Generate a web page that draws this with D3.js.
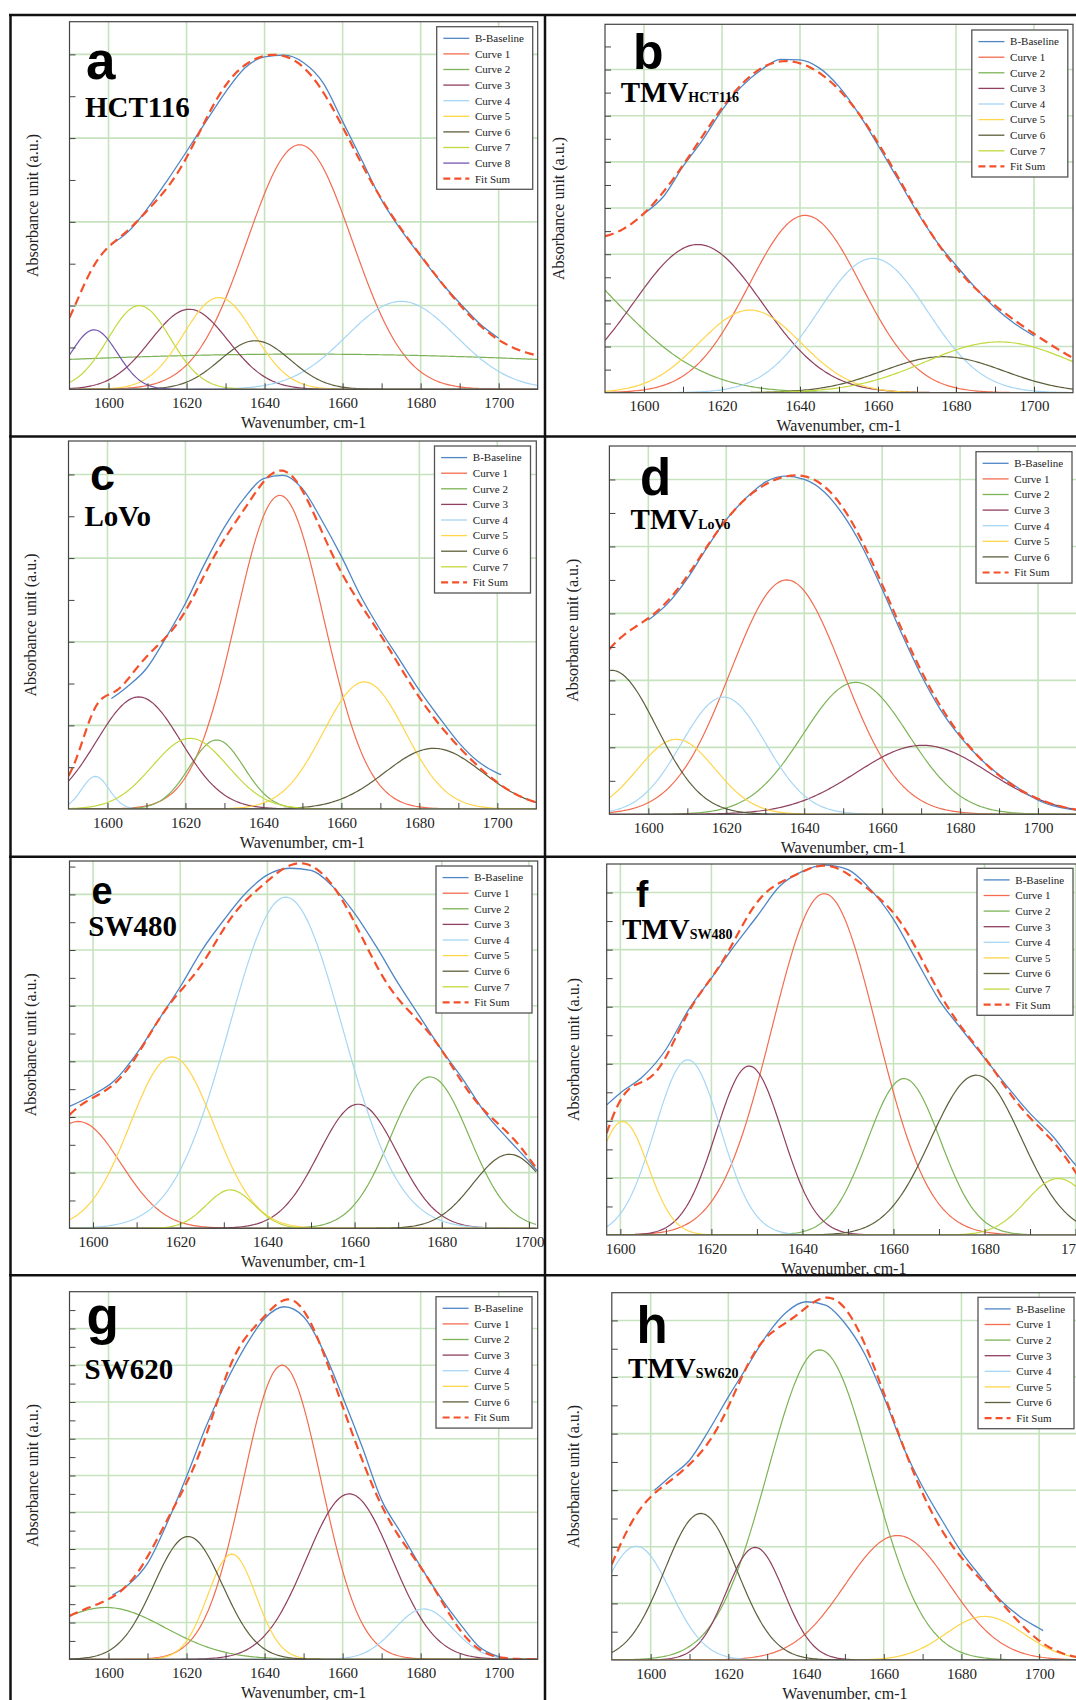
<!DOCTYPE html>
<html>
<head>
<meta charset="utf-8">
<script src="https://cdn.jsdelivr.net/npm/d3@7"></script>
<style>
  body { margin: 0; background: #fff; }
  svg { display: block; }
</style>
</head>
<body>
<svg id="fig" width="1076" height="1700"></svg>
<script>
// ---------- DATA ----------
var panelLetters = ["a", "b", "c", "d", "e", "f", "g", "h"];
var sampleNames = ["HCT116", "TMV", "LoVo", "TMV", "SW480", "TMV", "SW620", "TMV"];
var sampleSubs = ["", "HCT116", "", "LoVo", "", "SW480", "", "SW620"];

// wavenumber range shown on each x axis (cm-1)
var xDomains = [[1590, 1710], [1590, 1710], [1590, 1710], [1590, 1710],
                [1594.6, 1702], [1597, 1701.2], [1590, 1710], [1590, 1710]];
// top of each y axis, in grid units (no numbers printed on the y axes)
var yMax = [4.39, 7.98, 4.4, 5.5, 6.6, 6.5, 10, 6.49];

var xLabelTicks = [1600, 1620, 1640, 1660, 1680, 1700];
var xMinorTicks = [1590, 1610, 1630, 1650, 1670, 1690, 1710];

// fitted component peaks: [centre cm-1, height, sigma cm-1]  (Curve 1, Curve 2, ...)
var peaksA = [[1649, 2.92, 13.5], [1650, 0.42, 105], [1620.7, 0.956, 10], [1675, 1.05, 14],
              [1628.3, 1.096, 9], [1637.6, 0.58, 9], [1607.9, 1.0, 8], [1596.3, 0.71, 6]];
var peaksB = [[1641.3, 3.84, 14.4], [1569, 3.37, 23], [1613.8, 3.21, 16.5], [1658.7, 2.91, 14],
              [1627.2, 1.79, 13], [1676.7, 0.78, 15.5], [1691.1, 1.10, 19]];
var peaksC = [[1644.2, 3.75, 11.3], [1628, 0.825, 7], [1608, 1.34, 10.8], [1596.9, 0.39, 3.5],
              [1665.9, 1.52, 10.5], [1683.7, 0.725, 12.5], [1621.2, 0.845, 9.7]];
var peaksD = [[1635.5, 3.5, 14.5], [1653.2, 1.97, 13.5], [1670.4, 1.03, 17], [1619.3, 1.75, 10.8],
              [1607.2, 1.12, 9.9], [1590.6, 2.15, 11.5]];
var peaksE = [[1596.6, 1.92, 9.8], [1677.3, 2.72, 9], [1660.8, 2.23, 9], [1644.2, 5.95, 13],
              [1618.1, 3.08, 9.6], [1695.5, 1.33, 8.3], [1631.5, 0.69, 5.5]];
var peaksF = [[1644.8, 5.98, 11.5], [1662.3, 2.74, 8], [1628.3, 2.96, 7.3], [1614.8, 3.07, 7.2],
              [1600.5, 1.99, 5.6], [1678.2, 2.8, 9.9], [1696.2, 0.99, 7]];
var peaksG = [[1644.5, 8.0, 10], [1599.3, 1.41, 15.3], [1661.7, 4.5, 11], [1680.8, 1.37, 7.5],
              [1631.6, 2.86, 6.2], [1620.4, 3.34, 8.8]];
var peaksH = [[1663.5, 2.2, 13.4], [1643.5, 5.48, 13.4], [1626.9, 1.99, 7.4], [1596.3, 2.01, 8.8],
              [1686, 0.77, 10], [1612.9, 2.59, 9.4]];

// measured spectrum ("B-Baseline" trace): [wavenumber, absorbance]
var measuredA = [[1601, 1.74], [1605, 1.88], [1610, 2.16], [1615, 2.49], [1620, 2.84], [1625, 3.20],
  [1630, 3.55], [1635, 3.84], [1640, 3.97], [1645, 3.99], [1650, 3.90], [1655, 3.66], [1660, 3.20],
  [1665, 2.73], [1670, 2.26], [1675, 1.90], [1680, 1.59], [1685, 1.29], [1690, 1.03], [1695, 0.79], [1700, 0.61]];
var measuredB = [[1600, 3.88], [1605, 4.25], [1610, 4.90], [1615, 5.47], [1620, 6.12], [1625, 6.63],
  [1630, 6.99], [1635, 7.22], [1640, 7.21], [1645, 7.03], [1650, 6.63], [1655, 6.05], [1660, 5.36],
  [1665, 4.64], [1670, 3.92], [1675, 3.28], [1680, 2.76], [1685, 2.27], [1690, 1.84], [1695, 1.50], [1700, 1.23]];
var measuredC = [[1601, 1.32], [1605, 1.46], [1610, 1.68], [1615, 2.05], [1620, 2.46], [1625, 2.94],
  [1630, 3.37], [1635, 3.71], [1640, 3.95], [1645, 3.99], [1650, 3.83], [1655, 3.45], [1660, 3.02],
  [1665, 2.54], [1670, 2.14], [1675, 1.78], [1680, 1.42], [1685, 1.10], [1690, 0.80], [1695, 0.57],
  [1700, 0.43], [1701, 0.41]];
var measuredD = [[1600, 2.90], [1605, 3.15], [1610, 3.52], [1615, 3.98], [1620, 4.40], [1625, 4.72],
  [1630, 4.96], [1635, 5.05], [1640, 5.00], [1645, 4.82], [1650, 4.47], [1655, 3.98], [1660, 3.36],
  [1665, 2.70], [1670, 2.08], [1675, 1.56], [1680, 1.16], [1685, 0.84], [1690, 0.59], [1695, 0.39],
  [1700, 0.21], [1705, 0.11], [1710, 0.06]];
var measuredE = [[1594.6, 2.19], [1600, 2.40], [1605, 2.66], [1610, 3.14], [1615, 3.74], [1620, 4.34],
  [1625, 5.00], [1630, 5.54], [1635, 6.02], [1640, 6.35], [1645, 6.47], [1650, 6.43], [1655, 6.14],
  [1660, 5.66], [1665, 5.06], [1670, 4.40], [1675, 3.80], [1680, 3.20], [1685, 2.66], [1690, 2.07],
  [1695, 1.62], [1700, 1.20], [1702, 1.02]];
var measuredF = [[1597, 2.28], [1600, 2.49], [1605, 2.78], [1610, 3.25], [1615, 3.95], [1620, 4.50],
  [1625, 5.06], [1630, 5.58], [1635, 6.11], [1640, 6.37], [1645, 6.48], [1650, 6.40], [1655, 6.05],
  [1660, 5.53], [1665, 4.82], [1670, 4.12], [1675, 3.60], [1680, 3.10], [1685, 2.60], [1690, 2.13],
  [1695, 1.73], [1700, 1.23], [1702, 1.08]];
var measuredG = [[1601, 1.75], [1605, 2.02], [1610, 2.61], [1615, 3.70], [1620, 4.97], [1625, 6.33],
  [1630, 7.51], [1635, 8.50], [1640, 9.27], [1645, 9.59], [1650, 9.32], [1655, 8.41], [1660, 7.14],
  [1665, 5.78], [1670, 4.33], [1675, 3.43], [1680, 2.52], [1685, 1.70], [1690, 0.98], [1695, 0.34], [1700, 0.07]];
var measuredH = [[1601, 3.00], [1605, 3.24], [1610, 3.53], [1615, 4.06], [1620, 4.65], [1625, 5.20],
  [1630, 5.75], [1635, 6.15], [1640, 6.33], [1645, 6.27], [1650, 5.95], [1655, 5.42], [1660, 4.65],
  [1665, 3.77], [1670, 3.06], [1675, 2.47], [1680, 1.91], [1685, 1.47], [1690, 1.06], [1695, 0.77],
  [1700, 0.56], [1701, 0.52]];

var allPeaks = [peaksA, peaksB, peaksC, peaksD, peaksE, peaksF, peaksG, peaksH];
var allMeasured = [measuredA, measuredB, measuredC, measuredD, measuredE, measuredF, measuredG, measuredH];

// ---------- LOOK ----------
var curveColors = ["#f36c50", "#7db356", "#8f3f5f", "#a6d6f5", "#ffd54a", "#5e5e3c", "#c3d83c", "#7656b0"];
var baseColor = "#4f86c6";
var fitColor = "#f4502a";
var gridColor = "#c6e3be";
var serif = "'Liberation Serif', 'Times New Roman', serif";
var sans = "'Liberation Sans', Arial, sans-serif";

// plot boxes, label spots, legend spots (pixels)
var layout = [
  {l: 69.5, r: 537.7, t: 21.7, b: 389.3, yl: 33, lx: 86, ly: 79.3, ls: 53, nx: 85, ny: 116.7, gx: 436.7, gy: 26.7},
  {l: 605, r: 1073, t: 24.3, b: 392.7, yl: 559, lx: 633, ly: 69.3, ls: 50, nx: 620.7, ny: 102.3, gx: 971.8, gy: 30},
  {l: 68.5, r: 536.3, t: 441, b: 809, yl: 31, lx: 90, ly: 490, ls: 45, nx: 84.5, ny: 525.7, gx: 434.5, gy: 446},
  {l: 609.4, r: 1077, t: 446, b: 814.3, yl: 572.5, lx: 640, ly: 495, ls: 51, nx: 630.6, ny: 529, gx: 976, gy: 451.7},
  {l: 69.5, r: 537.7, t: 861, b: 1228.3, yl: 31, lx: 91.5, ly: 904, ls: 38, nx: 88.3, ny: 936, gx: 436, gy: 866},
  {l: 606.7, r: 1081, t: 864, b: 1235, yl: 574, lx: 636, ly: 906.7, ls: 37, nx: 622, ny: 939.3, gx: 977, gy: 868.3},
  {l: 69.5, r: 537.7, t: 1291.7, b: 1659.3, yl: 33, lx: 86.5, ly: 1334, ls: 53, nx: 84.5, ny: 1379.3, gx: 436, gy: 1296.7},
  {l: 611.8, r: 1078, t: 1292.7, b: 1660, yl: 574, lx: 636.5, ly: 1343.3, ls: 51, nx: 628, ny: 1378.3, gx: 978, gy: 1297.3}
];

var svg = d3.select("#fig");
svg.append("rect").attr("width", 1076).attr("height", 1700).attr("fill", "#fff");
var defs = svg.append("defs");

function gauss(p, v) {
  var d = v - p[0];
  return p[1] * Math.exp(-d * d / (2 * p[2] * p[2]));
}

function drawPanel(i) {
  var box = layout[i];
  var peaks = allPeaks[i];
  var dom = xDomains[i];
  var g = svg.append("g").attr("class", "panel-" + panelLetters[i]);

  var x = d3.scaleLinear().domain(dom).range([box.l, box.r]);
  var y = d3.scaleLinear().domain([0, yMax[i]]).range([box.b, box.t]);

  defs.append("clipPath").attr("id", "clip" + i)
    .append("rect").attr("x", box.l).attr("y", box.t)
    .attr("width", box.r - box.l).attr("height", box.b - box.t);

  // grid
  var grid = g.append("g");
  grid.selectAll(".vx").data(xLabelTicks.filter(function (d) { return d > dom[0] && d < dom[1]; }))
    .enter().append("line")
    .attr("x1", function (d) { return x(d); }).attr("x2", function (d) { return x(d); })
    .attr("y1", box.t).attr("y2", box.b)
    .attr("stroke", gridColor).attr("stroke-width", 1.6);
  grid.selectAll(".hy").data(d3.range(1, yMax[i], 1))
    .enter().append("line")
    .attr("x1", box.l).attr("x2", box.r)
    .attr("y1", function (d) { return y(d); }).attr("y2", function (d) { return y(d); })
    .attr("stroke", gridColor).attr("stroke-width", 1.6);

  var plot = g.append("g").attr("clip-path", "url(#clip" + i + ")");
  var line = d3.line().x(function (d) { return x(d[0]); }).y(function (d) { return y(d[1]); });
  var xs = d3.range(dom[0], dom[1] + 0.01, 0.5);

  // component peaks
  peaks.forEach(function (p, k) {
    plot.append("path")
      .datum(xs.map(function (v) { return [v, gauss(p, v)]; }))
      .attr("d", line)
      .attr("fill", "none")
      .attr("stroke", curveColors[k])
      .attr("stroke-width", 1.2);
  });

  // measured trace
  plot.append("path")
    .datum(allMeasured[i])
    .attr("d", line.curve(d3.curveMonotoneX))
    .attr("fill", "none")
    .attr("stroke", baseColor)
    .attr("stroke-width", 1.3);
  line.curve(d3.curveLinear);

  // fit sum of all components
  plot.append("path")
    .datum(xs.map(function (v) { return [v, d3.sum(peaks, function (p) { return gauss(p, v); })]; }))
    .attr("d", line)
    .attr("fill", "none")
    .attr("stroke", fitColor)
    .attr("stroke-width", 2.2)
    .attr("stroke-dasharray", "9,5");

  // frame
  g.append("rect")
    .attr("x", box.l).attr("y", box.t)
    .attr("width", box.r - box.l).attr("height", box.b - box.t)
    .attr("fill", "none").attr("stroke", "#444").attr("stroke-width", 1.2);

  // axes
  var xt = xLabelTicks.concat(xMinorTicks).filter(function (d) { return d > dom[0] && d < dom[1]; });
  var xAxis = d3.axisBottom(x).tickValues(xt).tickSize(-6).tickPadding(8)
    .tickFormat(function (d) { return d % 20 === 0 ? d : ""; });
  var xg = g.append("g").attr("transform", "translate(0," + box.b + ")").call(xAxis);
  xg.select(".domain").remove();
  xg.selectAll("line").attr("stroke", "#444");
  xg.selectAll("text").attr("font-family", serif).attr("font-size", 15).attr("fill", "#222");

  var yAxis = d3.axisLeft(y).tickValues(d3.range(0.5, yMax[i], 0.5)).tickSize(-6).tickFormat("");
  var yg = g.append("g").attr("transform", "translate(" + box.l + ",0)").call(yAxis);
  yg.select(".domain").remove();
  yg.selectAll("line").attr("stroke", "#444");

  // axis titles
  g.append("text")
    .attr("x", (box.l + box.r) / 2).attr("y", box.b + 38.5)
    .attr("text-anchor", "middle")
    .attr("font-family", serif).attr("font-size", 16).attr("fill", "#222")
    .text("Wavenumber, cm-1");
  g.append("text")
    .attr("transform", "translate(" + box.yl + "," + (box.t + box.b) / 2 + ") rotate(-90)")
    .attr("dy", "0.32em")
    .attr("text-anchor", "middle")
    .attr("font-family", serif).attr("font-size", 16).attr("fill", "#222")
    .text("Absorbance unit (a.u.)");

  // panel letter + sample name
  g.append("text")
    .attr("x", box.lx).attr("y", box.ly)
    .attr("font-family", sans).attr("font-weight", "bold").attr("font-size", box.ls)
    .attr("fill", "#000")
    .text(panelLetters[i]);
  var name = g.append("text")
    .attr("x", box.nx).attr("y", box.ny)
    .attr("font-family", serif).attr("font-weight", "bold").attr("font-size", 29)
    .attr("fill", "#000");
  name.append("tspan").text(sampleNames[i]);
  if (sampleSubs[i]) {
    name.append("tspan").attr("font-size", 14).text(sampleSubs[i]);
  }

  // legend
  var entries = [{label: "B-Baseline", color: baseColor, dash: null}];
  peaks.forEach(function (p, k) {
    entries.push({label: "Curve " + (k + 1), color: curveColors[k], dash: null});
  });
  entries.push({label: "Fit Sum", color: fitColor, dash: "7,4"});

  var step = 15.6;
  var lg = g.append("g").attr("transform", "translate(" + box.gx + "," + box.gy + ")");
  lg.append("rect")
    .attr("width", 96).attr("height", entries.length * step + 6.6)
    .attr("fill", "#fff").attr("stroke", "#555").attr("stroke-width", 1.3);
  var item = lg.selectAll(".item").data(entries).enter().append("g")
    .attr("transform", function (d, k) { return "translate(0," + (11.6 + k * step) + ")"; });
  item.append("line")
    .attr("x1", 6.6).attr("x2", 32.6)
    .attr("stroke", function (d) { return d.color; })
    .attr("stroke-width", function (d) { return d.dash ? 2.2 : 1.3; })
    .attr("stroke-dasharray", function (d) { return d.dash; });
  item.append("text")
    .attr("x", 38.3).attr("dy", "0.35em")
    .attr("font-family", serif).attr("font-size", 11).attr("fill", "#222")
    .text(function (d) { return d.label; });
}

for (var i = 0; i < panelLetters.length; i++) {
  drawPanel(i);
}

// black frame around the panel grid
var frame = svg.append("g").attr("stroke", "#111").attr("stroke-width", 2.5);
frame.append("line").attr("x1", 9).attr("x2", 1076).attr("y1", 15).attr("y2", 15);
[436.5, 856.7, 1275.3].forEach(function (yy) {
  frame.append("line").attr("x1", 9).attr("x2", 1076).attr("y1", yy).attr("y2", yy);
});
frame.append("line").attr("x1", 10.5).attr("x2", 10.5).attr("y1", 14).attr("y2", 1700);
frame.append("line").attr("x1", 545).attr("x2", 545).attr("y1", 14).attr("y2", 1700);
</script>
</body>
</html>
